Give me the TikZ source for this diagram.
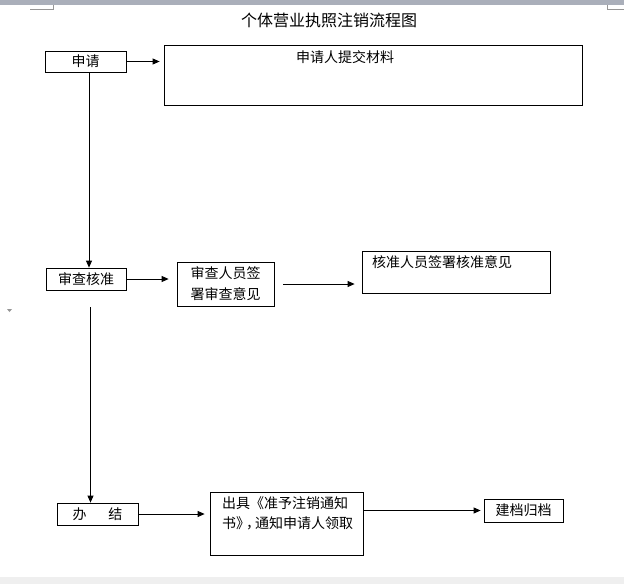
\documentclass[tikz,border=0pt]{standalone}
\usepackage{fontspec}
\setmainfont{Noto Sans CJK SC}
\usetikzlibrary{arrows.meta}
\definecolor{barc}{RGB}{170,175,186}
\definecolor{markc}{RGB}{150,150,150}
\definecolor{stripc}{RGB}{239,239,239}
\begin{document}
\begin{tikzpicture}[
  x=1pt, y=-1pt,
  font=\fontsize{14}{21}\selectfont,
  box/.style={draw, line width=0.8pt, inner sep=0pt, align=center},
  txt/.style={inner sep=0pt, align=center},
  arr/.style={draw, line width=0.8pt, -{Triangle[length=7pt,width=6pt]}}
]
\useasboundingbox (0,0) rectangle (624,584);
\fill[white] (0,0) rectangle (624,584);
\fill[barc] (0,0) rectangle (624,4.5);
\fill[stripc] (0,577) rectangle (624,584);
\draw[markc, line width=0.8pt] (30,9) -| (53,4.5);
\draw[markc, line width=0.8pt] (624,9) -| (607,4.5);
\fill[markc] (7,309) -- (12,309) -- (9.5,312) -- cycle;

\node[txt, font=\fontsize{16}{19}\selectfont] (title) at (329,20) {个体营业执照注销流程图};

\node[box, minimum width=81pt, minimum height=21pt] (shenqing) at (85.5,61.5) {申请};
\node[box, minimum width=418pt, minimum height=60pt] (tijiao) at (373,75) {};
\node[txt] (tijiaot) at (345,57) {申请人提交材料};

\node[box, minimum width=80pt, minimum height=22pt] (shencha) at (86,279) {审查核准};
\node[box, minimum width=97pt, minimum height=44pt] (qianshu) at (225.5,284) {审查人员签\\署审查意见};
\node[box, minimum width=188pt, minimum height=42pt] (hezhun) at (456,272) {};
\node[txt] (hezhunt) at (442,262) {核准人员签署核准意见};

\node[box, minimum width=81pt, minimum height=22pt] (banjie) at (97.5,514) {办\hspace{22pt}结};
\node[box, minimum width=153pt, minimum height=63pt] (tongzhi) at (286.5,523.5) {};
\node[txt, align=left, anchor=west, font=\fontsize{14}{20}\selectfont] (tongzhit) at (222,513) {出具《准予注销通知\\书》\hspace{-4pt}，\hspace{-5pt}通知申请人领取};
\node[box, minimum width=79pt, minimum height=23pt] (guidang) at (523.5,510.5) {建档归档};

\draw[arr, shorten >=4pt] (shenqing.east) -- (tijiao.west |- shenqing.east);
\draw[arr] ([xshift=3.5pt]shenqing.south) -- ([xshift=3.5pt]shenqing.south |- shencha.north);
\draw[arr, shorten >=8pt] (shencha.east) -- (qianshu.west |- shencha.east);
\draw[arr, shorten <=9pt, shorten >=7pt] (qianshu.east) -- (hezhun.west |- qianshu.east);
\draw[arr, shorten <=17pt] ([xshift=4.5pt]shencha.south) -- ([xshift=4.5pt]shencha.south |- banjie.north);
\draw[arr, shorten >=5pt] (banjie.east) -- (tongzhi.west |- banjie.east);
\draw[arr, shorten >=3pt] (tongzhi.east |- guidang.west) -- (guidang.west);
\end{tikzpicture}
\end{document}
